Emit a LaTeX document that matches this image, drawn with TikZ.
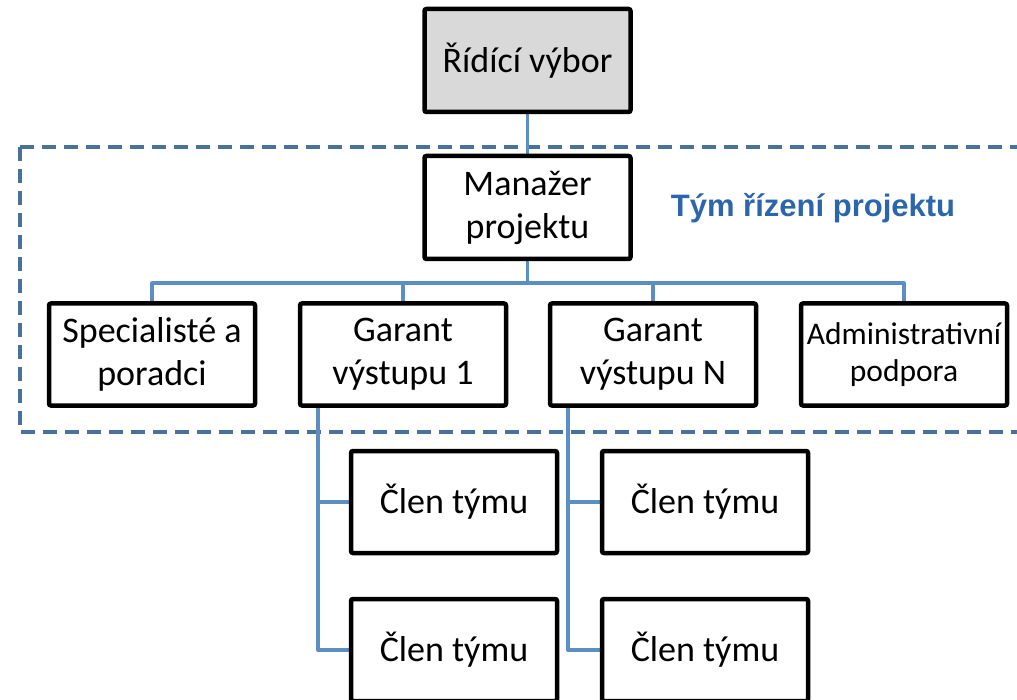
\documentclass[tikz,border=0pt]{standalone}
\usepackage{fontspec}
\setmainfont{Carlito}
\newfontfamily\arialfont{Liberation Sans}
\usetikzlibrary{calc,backgrounds}
\definecolor{linkblue}{HTML}{5B8FC2}
\definecolor{frameblue}{HTML}{48719C}
\definecolor{titleblue}{HTML}{2B66AD}
\definecolor{boxgrey}{HTML}{D9D9D9}
\tikzset{
  orgbox/.style={rectangle,rounded corners=2pt,minimum width=206pt,minimum height=102pt,
    draw=black,fill=#1,text=black,font=\fontsize{36}{43}\selectfont,
    align=center,line width=4.5pt,inner sep=2pt},
  orgbox/.default={white},
  mylink/.style={line width=3.5pt,draw=linkblue,line join=round},
  teamframe/.style={draw=frameblue,line width=4.5pt,dash pattern=on 14pt off 8pt},
  teamlabel/.style={font=\arialfont\bfseries\fontsize{31}{36}\selectfont,text=titleblue},
}
\begin{document}
\begin{tikzpicture}[x=1pt,y=-1pt]
  \useasboundingbox (0,0) rectangle (1017,700);
  \node[orgbox=boxgrey,minimum height=103pt] (rv) at (527.5,60.5) {Řídící výbor};
  \node[orgbox,minimum height=103pt] (mp) at (527.5,207.5) {Manažer\\projektu};
  \node[teamlabel] (tl) at (813,208) {Tým řízení projektu};
  \node[orgbox] (sp) at (152,354.5) {Specialisté a\\poradci};
  \node[orgbox] (g1) at (403,354.5) {Garant\\výstupu 1};
  \node[orgbox] (gn) at (653,354.5) {Garant\\výstupu N};
  \node[orgbox,font=\fontsize{31.5}{37}\selectfont] (ap) at (904,354.5) {Administrativní\\podpora};
  \node[orgbox] (c1a) at (454,502) {Člen týmu};
  \node[orgbox] (c1b) at (454,650) {Člen týmu};
  \node[orgbox] (cna) at (705,502) {Člen týmu};
  \node[orgbox] (cnb) at (705,650) {Člen týmu};
  \coordinate (bus) at ([yshift=-22pt]mp.south);
  \begin{scope}[on background layer]
    \draw[teamframe] (20,147) rectangle (1040,432);
    \draw[mylink] (rv) -- (mp);
    \draw[mylink] (mp.south) -- (bus);
    \draw[mylink] (sp.north) |- (bus) -| (ap.north);
    \foreach \g in {g1,gn}
      \draw[mylink] (\g.north) -- (\g.north |- bus);
    \draw[mylink] ([xshift=20pt]g1.south west) |- (c1b.west);
    \draw[mylink] ([xshift=20pt]g1.south west |- c1a.west) -- (c1a.west);
    \draw[mylink] ([xshift=20pt]gn.south west) |- (cnb.west);
    \draw[mylink] ([xshift=20pt]gn.south west |- cna.west) -- (cna.west);
  \end{scope}
\end{tikzpicture}
\end{document}
